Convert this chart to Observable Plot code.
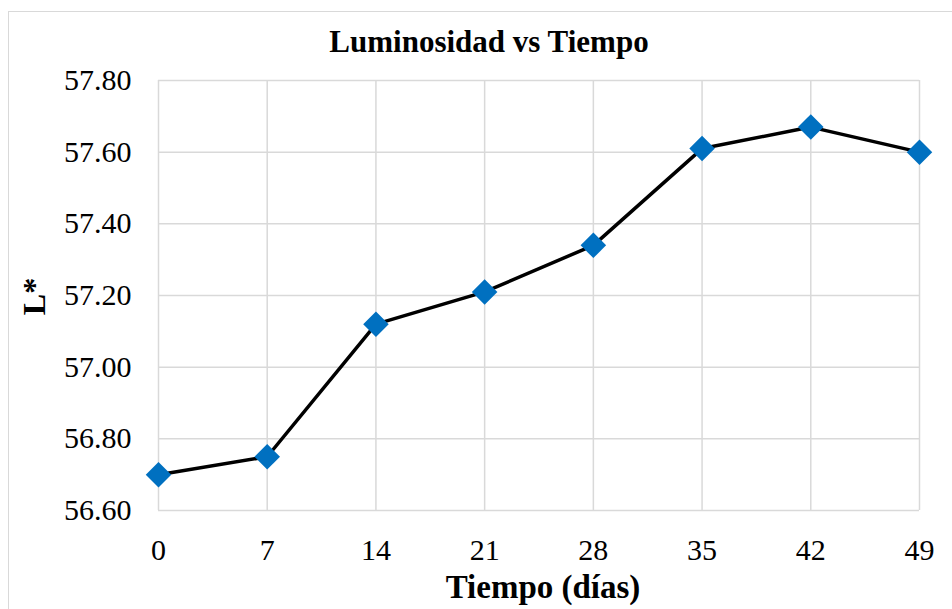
<!DOCTYPE html>
<html>
<head>
<meta charset="utf-8">
<script src="https://cdn.jsdelivr.net/npm/d3@7"></script>
<script src="https://cdn.jsdelivr.net/npm/@observablehq/plot@0.6"></script>
<style>
  html, body { margin: 0; padding: 0; background: #fff; overflow: hidden; }
  #wrap { position: relative; width: 952px; height: 609px; overflow: hidden; }
  #border { position: absolute; left: 8px; top: 11px; width: 1000px; height: 700px;
            border: 1.5px solid #d9d9d9; box-sizing: border-box; }
  #chart { position: absolute; left: 0; top: 0; }
  #chart svg { overflow: visible; }
</style>
</head>
<body>
<div id="wrap"><div id="border"></div><div id="chart"></div></div>
<script>
const days = [0, 7, 14, 21, 28, 35, 42, 49];
const lValues = [56.70, 56.75, 57.12, 57.21, 57.34, 57.61, 57.67, 57.60];
const yTicks = [56.6, 56.8, 57.0, 57.2, 57.4, 57.6, 57.8];
const xTicks = [0, 7, 14, 21, 28, 35, 42, 49];
const titleText = "Luminosidad vs Tiempo";
const xLabel = "Tiempo (días)";
const yLabel = "L*";

const data = days.map((d, i) => ({day: d, L: lValues[i]}));
const font = "'Liberation Serif', 'Times New Roman', serif";

const chart = Plot.plot({
  width: 952,
  height: 609,
  marginLeft: 158,
  marginRight: 33,
  marginTop: 80,
  marginBottom: 99,
  style: {fontFamily: font, background: "transparent", color: "#000"},
  x: {domain: [0, 49], ticks: xTicks},
  y: {domain: [56.6, 57.8], ticks: yTicks},
  marks: [
    Plot.gridX(xTicks, {stroke: "#d9d9d9", strokeOpacity: 1, strokeWidth: 1.5}),
    Plot.gridY(yTicks, {stroke: "#d9d9d9", strokeOpacity: 1, strokeWidth: 1.5}),
    Plot.axisX(xTicks, {tickSize: 0, tickPadding: 28, fontSize: 30, label: null, fill: "#000"}),
    Plot.axisY(yTicks, {tickSize: 0, tickPadding: 27, fontSize: 30, label: null, fill: "#000",
      tickFormat: d => d.toFixed(2)}),
    Plot.line(data, {x: "day", y: "L", stroke: "#000", strokeWidth: 3.5}),
    Plot.dot(data, {x: "day", y: "L", symbol: "diamond2", r: 11.5, fill: "#0070c0", stroke: "none"}),
    Plot.text([titleText], {frameAnchor: "top", lineAnchor: "bottom", dy: -29, dx: -50,
      fontSize: 31, fontWeight: "bold", fill: "#000"}),
    Plot.text([xLabel], {frameAnchor: "bottom", lineAnchor: "bottom", dy: 87, dx: 4,
      fontSize: 33, fontWeight: "bold", fill: "#000"}),
    Plot.text([yLabel], {frameAnchor: "left", rotate: -90, dx: -124, dy: 1, textAnchor: "middle",
      lineAnchor: "middle", fontSize: 32, fontWeight: "bold", fill: "#000"})
  ]
});
document.getElementById("chart").appendChild(chart);
</script>
</body>
</html>
